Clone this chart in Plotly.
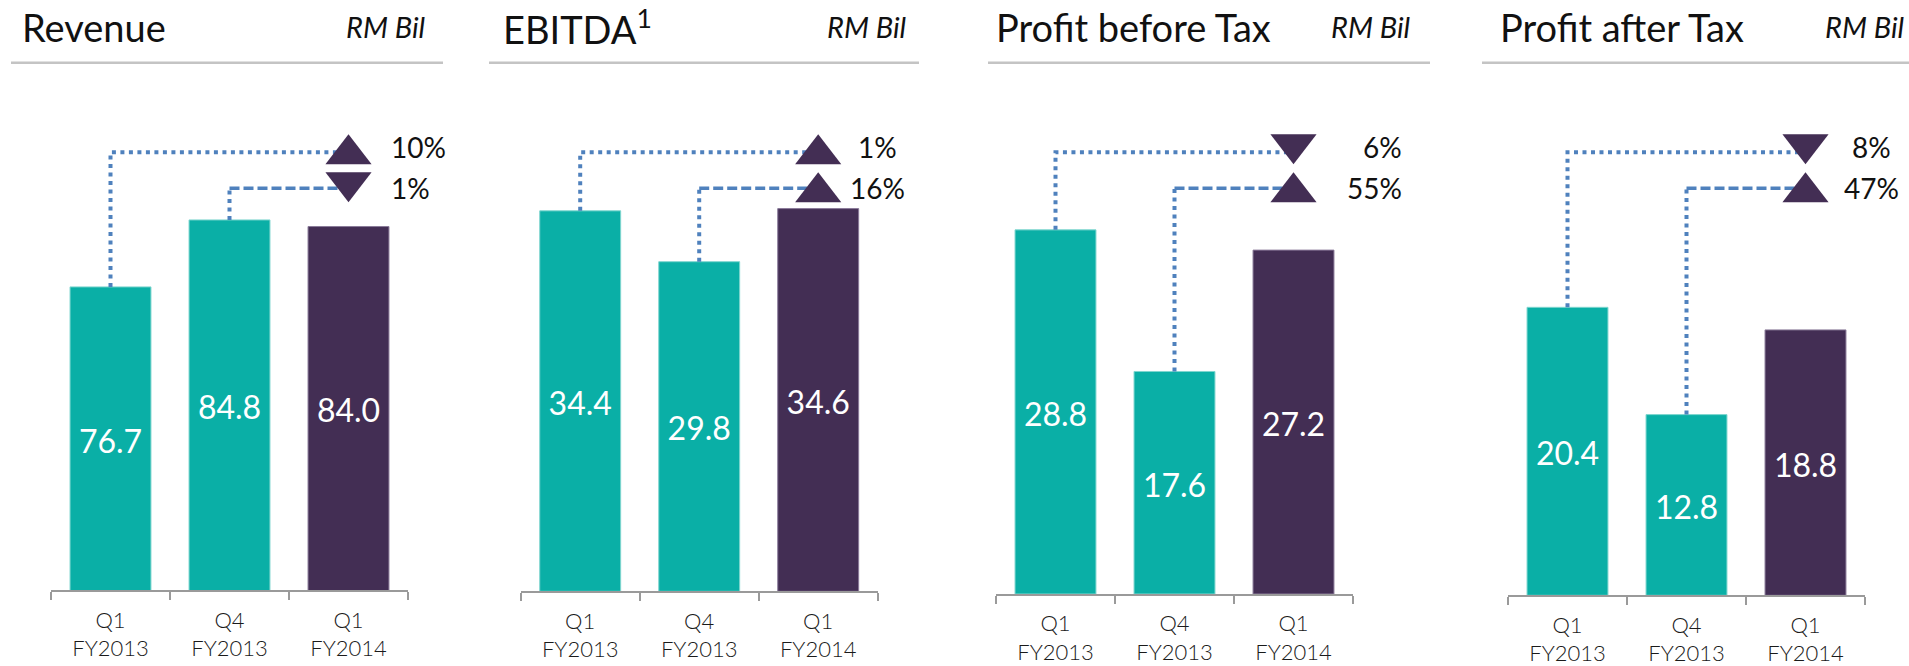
import plotly.graph_objects as go

# ---------------- data ----------------
categories = ["Q1<br>FY2013", "Q4<br>FY2013", "Q1<br>FY2014"]
titles = ["Revenue", "EBITDA<sup>1</sup>", "Profit before Tax", "Profit after Tax"]
unit_label = "RM Bil"
revenue = [76.7, 84.8, 84.0]
ebitda = [34.4, 29.8, 34.6]
profit_before_tax = [28.8, 17.6, 27.2]
profit_after_tax = [20.4, 12.8, 18.8]
series = [revenue, ebitda, profit_before_tax, profit_after_tax]
# change of Q1 FY2014 vs Q1 FY2013 and vs Q4 FY2013
chg_vs_q1fy13 = ["10%", "1%", "6%", "8%"]
dir_vs_q1fy13 = ["up", "up", "down", "down"]
chg_vs_q4fy13 = ["1%", "16%", "55%", "47%"]
dir_vs_q4fy13 = ["down", "up", "up", "up"]

# ---------------- layout / style ----------------
W, H = 1909, 666
TEAL, PURPLE, BLUE = "#0aafa6", "#432e54", "#4f81bd"
AXIS_GREY, HEAD_GREY = "#9a9a9a", "#c4c4c4"
FONT = "Lato"

x_dom_px = [(51, 408), (520.7, 877.7), (996, 1353), (1508, 1865)]
base_px = [593, 594, 596.7, 598]
y_ranges = [(40, 111.4), (0, 53.46), (0, 46.98), (0, 42.17)]
title_x_px = [20, 501, 994, 1498]
unit_right_px = [428, 909, 1413, 1907]
head_line_px = [(11, 443), (489, 919), (988, 1430), (1482, 1909)]
pct_anchor = ["left", "center", "right", "center"]
pct_xshift = [40, 59, 110, 66]
row_text_px = [148, 189]
row_tri_px = [150, 188]
row_line_px = [153, 189]
label_drop_px = 6
bar_colors = [TEAL, TEAL, PURPLE]


def py(px):
    return 1 - px / H


def px_to_y(i, px):
    lo, hi = y_ranges[i]
    return lo + (base_px[i] - px) * (hi - lo) / base_px[i]


fig = go.Figure()
annotations = []
shapes = []

for i, vals in enumerate(series):
    sfx = "" if i == 0 else str(i + 1)
    xa, ya = "x" + sfx, "y" + sfx
    lo, hi = y_ranges[i]
    unit_px = (hi - lo) / base_px[i]

    fig.add_trace(go.Bar(
        x=categories, y=vals, xaxis=xa, yaxis=ya,
        marker=dict(color=bar_colors, line=dict(color=["#7fd6cf", "#7fd6cf", "#8a7a99"], width=1)),
        hoverinfo="skip", showlegend=False,
    ))

    lvl1 = px_to_y(i, row_line_px[0])
    lvl2 = px_to_y(i, row_line_px[1])
    dot = dict(color=BLUE, width=4, dash="4px,4.5px")
    # connector from first bar
    fig.add_trace(go.Scatter(
        x=[categories[0], categories[0], categories[2]], y=[vals[0], lvl1, lvl1],
        xaxis=xa, yaxis=ya, mode="lines", line=dot,
        hoverinfo="skip", showlegend=False,
    ))
    # connector from second bar
    fig.add_trace(go.Scatter(
        x=[categories[1], categories[1]], y=[vals[1], lvl2],
        xaxis=xa, yaxis=ya, mode="lines", line=dot,
        hoverinfo="skip", showlegend=False,
    ))
    fig.add_trace(go.Scatter(
        x=[categories[1], categories[2]], y=[lvl2, lvl2],
        xaxis=xa, yaxis=ya, mode="lines",
        line=dict(color=BLUE, width=3.5, dash="10px,4px"),
        hoverinfo="skip", showlegend=False,
    ))

    # triangles
    tri_y, tri_sym = [], []
    for r, d in enumerate([dir_vs_q1fy13[i], dir_vs_q4fy13[i]]):
        off = 5 if d == "up" else -5
        tri_y.append(px_to_y(i, row_tri_px[r] + off))
        tri_sym.append("triangle-up" if d == "up" else "triangle-down")
    fig.add_trace(go.Scatter(
        x=[categories[2], categories[2]], y=tri_y, xaxis=xa, yaxis=ya,
        mode="markers", marker=dict(symbol=tri_sym, size=40, color=PURPLE, line=dict(width=0)),
        hoverinfo="skip", showlegend=False,
    ))

    # value labels inside bars (centred in the visible part of each bar)
    fig.add_trace(go.Scatter(
        x=categories, y=[(lo + v) / 2 - label_drop_px * unit_px for v in vals],
        xaxis=xa, yaxis=ya,
        mode="text", text=[f"{v:.1f}" for v in vals],
        textfont=dict(family=FONT, size=32, color="white"),
        textposition="middle center", hoverinfo="skip", showlegend=False,
    ))

    # percentage labels
    for r, txt in enumerate([chg_vs_q1fy13[i], chg_vs_q4fy13[i]]):
        annotations.append(dict(
            x=categories[2], xref=xa, y=py(row_text_px[r]), yref="paper",
            text=txt, showarrow=False, xanchor=pct_anchor[i], yanchor="middle",
            xshift=pct_xshift[i], font=dict(family=FONT, size=28, color="#111111"),
        ))

    # titles
    annotations.append(dict(
        x=title_x_px[i] / W, y=py(27), xref="paper", yref="paper", text=titles[i],
        showarrow=False, xanchor="left", yanchor="middle",
        font=dict(family=FONT, size=38, color="#111111"),
    ))
    annotations.append(dict(
        x=unit_right_px[i] / W, y=py(27), xref="paper", yref="paper",
        text=f"<i>{unit_label}</i>", showarrow=False, xanchor="right", yanchor="middle",
        font=dict(family=FONT, size=29, color="#111111"),
    ))
    x0, x1 = head_line_px[i]
    shapes.append(dict(type="line", xref="paper", yref="paper",
                       x0=x0 / W, x1=x1 / W, y0=py(63), y1=py(63),
                       line=dict(color=HEAD_GREY, width=2.5)))

    d0, d1 = x_dom_px[i]
    fig.update_layout(**{
        ("xaxis" + sfx): dict(
            domain=[d0 / W, d1 / W], anchor=ya, type="category", range=[-0.5, 2.5],
            showline=True, linecolor=AXIS_GREY, linewidth=2,
            ticks="outside", tickson="boundaries", ticklen=8, tickwidth=2, tickcolor=AXIS_GREY,
            ticklabelstandoff=9,
            tickfont=dict(family=FONT, size=22, color="#1a1a1a", weight=300),
            showgrid=False, zeroline=False, fixedrange=True,
        ),
        ("yaxis" + sfx): dict(
            domain=[py(base_px[i]), 1], anchor=xa, range=[lo, hi],
            visible=False, showgrid=False, zeroline=False, fixedrange=True,
        ),
    })

fig.update_layout(
    width=W, height=H,
    margin=dict(l=0, r=0, t=0, b=0),
    paper_bgcolor="white", plot_bgcolor="white",
    bargap=0.32, showlegend=False,
    annotations=annotations, shapes=shapes,
    font=dict(family=FONT),
)

fig.write_html(
    "out.html",
    config={"displayModeBar": False, "staticPlot": True},
    post_script="document.body.style.margin='0';document.body.style.overflow='hidden';",
)
